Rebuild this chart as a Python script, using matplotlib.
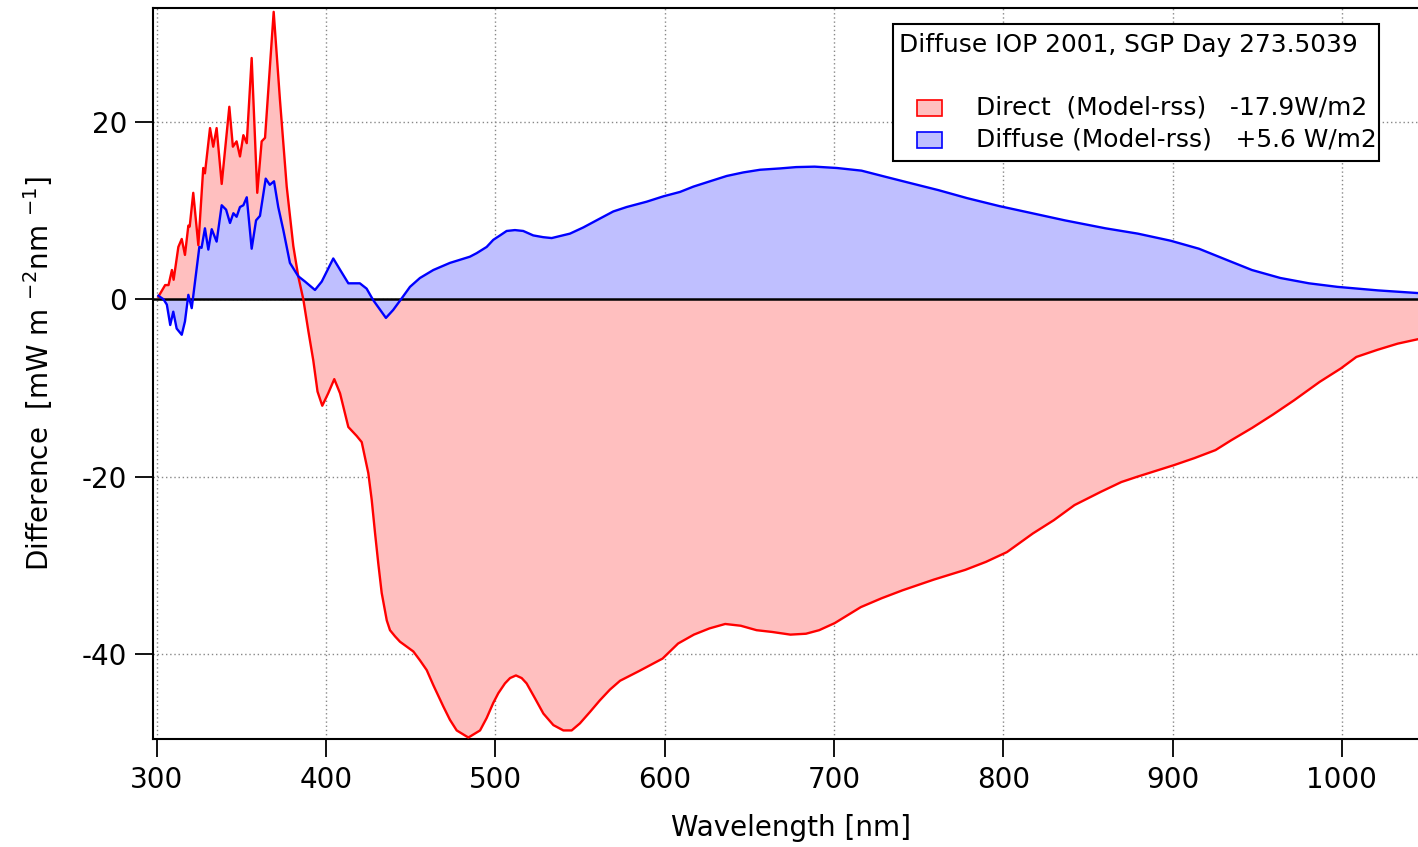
"""
Direct / diffuse spectral difference (Model - rss), Diffuse IOP 2001, SGP day 273.5039
"""
import numpy as np
import matplotlib
matplotlib.use("Agg")
import matplotlib.pyplot as plt
from matplotlib.patches import Rectangle

plt.rcParams['font.family'] = ['DejaVu Sans']
plt.rcParams['axes.unicode_minus'] = False

# direct component (Model-rss), mW m-2 nm-1
direct_wl = [301, 305, 307, 309, 310, 312.8, 314.8, 316.7, 318.7, 319.5,
             321.6, 324.6, 327.5, 328.5, 331.5, 333.4, 335.4, 338.4, 342.9, 345,
             347.2, 349.2, 351.2, 353.2, 356.1, 359.4, 362, 364, 369.1, 372.8,
             376.8, 380.7, 383.6, 386.6, 389.6, 392.5, 395.0, 397.8, 401.3, 404.9,
             408.3, 413.2, 418.1, 421.1, 425, 427, 429, 430.9, 432.9, 435.9,
             437.8, 440.8, 443.7, 451.6, 455.5, 459.5, 463.4, 469.3, 473.2, 477.2,
             484.1, 491, 494.9, 498.8, 501.8, 505.7, 508.7, 512.2, 515.6, 518.5,
             523.5, 528.4, 534.3, 540.2, 545.1, 550, 556, 561.8, 567.7, 573.7,
             585, 598.8, 608, 617.3, 626.5, 635.8, 645, 654.3, 663.5, 674.3,
             683.5, 691.3, 700.5, 715.9, 728.2, 740.6, 759, 777.6, 789.8, 802.2,
             817.5, 829.9, 842.1, 857.7, 869.8, 879.2, 900.8, 913, 925.4, 934.6,
             947, 959.3, 971.7, 987, 999.4, 1008.6, 1021, 1033, 1045]
direct_val = [0.3, 1.6, 1.6, 3.3, 2.2, 5.9, 6.8, 5.0, 8.3, 8.2,
              12.0, 6.1, 14.8, 14.2, 19.3, 17.2, 19.3, 13.0, 21.7, 17.2,
              17.8, 16.1, 18.5, 17.6, 27.2, 12.0, 17.8, 18.2, 32.4, 22.5,
              12.7, 6.0, 2.6, 0.0, -3.6, -6.9, -10.4, -12.0, -10.6, -9.0,
              -10.6, -14.4, -15.4, -16.1, -19.6, -22.6, -26.4, -29.8, -33.1, -36.2,
              -37.3, -38.0, -38.6, -39.7, -40.7, -41.8, -43.5, -45.9, -47.4, -48.6,
              -49.4, -48.6, -47.2, -45.5, -44.4, -43.3, -42.7, -42.4, -42.7, -43.3,
              -45.0, -46.7, -48.0, -48.6, -48.6, -47.8, -46.5, -45.2, -44.0, -43.0,
              -41.9, -40.5, -38.8, -37.8, -37.1, -36.6, -36.8, -37.3, -37.5, -37.8,
              -37.7, -37.3, -36.5, -34.7, -33.7, -32.8, -31.6, -30.5, -29.6, -28.5,
              -26.4, -24.9, -23.2, -21.7, -20.6, -20.0, -18.7, -17.9, -17.0, -15.9,
              -14.5, -13.0, -11.4, -9.3, -7.8, -6.5, -5.7, -5.0, -4.5]

# diffuse component (Model-rss)
diffuse_wl = [301, 304, 306, 308, 309.8, 311.8, 314.8, 316.7, 318.7, 320.7,
              325.2, 326.5, 328.5, 330.5, 332.5, 335.4, 338.4, 341, 343.3, 345.3,
              347.2, 349.2, 351.2, 353.2, 356.1, 358.7, 361, 364.4, 366.8, 369.3,
              371.8, 374.8, 378.7, 383.6, 387.6, 393.5, 397.5, 404.3, 408.4, 413.2,
              420, 424, 427.9, 435.4, 439.7, 444.7, 449.6, 455.5, 463.4, 473.2,
              485, 489, 494.9, 498.8, 502.8, 506.7, 511.6, 516.5, 522.4, 528.3,
              533.3, 544.1, 552, 561.8, 569.7, 577.6, 589.4, 599.2, 609.1, 617,
              626.8, 636.7, 646.5, 656.4, 668.2, 677.7, 688.6, 701.7, 716.3, 730.6,
              745.1, 761.8, 778.7, 797.8, 817.1, 836.3, 860.4, 879.5, 898.9, 915.6,
              932.5, 946.9, 963.7, 980.6, 997.4, 1021.4, 1045]
diffuse_val = [0.4, 0.0, -0.6, -2.9, -1.4, -3.3, -4.0, -2.5, 0.5, -1.0,
               5.9, 5.8, 8.0, 5.6, 7.9, 6.5, 10.6, 10.1, 8.6, 9.7,
               9.3, 10.4, 10.6, 11.5, 5.7, 8.9, 9.4, 13.6, 12.9, 13.3,
               10.4, 7.8, 4.1, 2.6, 2.0, 1.05, 2.0, 4.6, 3.3, 1.8,
               1.8, 1.2, -0.1, -2.1, -1.2, 0.1, 1.4, 2.4, 3.3, 4.1,
               4.8, 5.2, 5.9, 6.7, 7.2, 7.7, 7.8, 7.7, 7.2, 7.0,
               6.9, 7.4, 8.1, 9.1, 9.9, 10.4, 11.0, 11.6, 12.1, 12.7,
               13.3, 13.9, 14.3, 14.6, 14.75, 14.9, 14.95, 14.8, 14.5, 13.8,
               13.1, 12.3, 11.4, 10.5, 9.7, 8.9, 8.0, 7.4, 6.6, 5.7,
               4.4, 3.3, 2.4, 1.8, 1.4, 1.0, 0.7]

legend_title = 'Diffuse IOP 2001, SGP Day 273.5039'
legend_labels = ['Direct  (Model-rss)   -17.9W/m2',
                 'Diffuse (Model-rss)   +5.6 W/m2']
fill_colors = ['#ffbfbf', '#bfbfff']
line_colors = ['red', 'blue']

W, H = 1418, 847
fig = plt.figure(figsize=(W / 100, H / 100), dpi=100)
ax = fig.add_axes([153.3 / W, (H - 739.3) / H, (W - 153.3) / W, 731 / H])

ax.fill_between(direct_wl, direct_val, 0, facecolor=fill_colors[0], lw=0, zorder=1)
ax.fill_between(diffuse_wl, diffuse_val, 0, facecolor=fill_colors[1], lw=0, zorder=2)
ax.axhline(0, color='black', lw=1.8, zorder=3)
ax.plot(direct_wl, direct_val, color=line_colors[0], lw=1.7, zorder=4)
ax.plot(diffuse_wl, diffuse_val, color=line_colors[1], lw=1.7, zorder=5)

ax.set_xlim(298, 1045)
ax.set_ylim(-49.6, 32.8)
ax.set_xticks(np.arange(300, 1001, 100))
ax.set_yticks([-40, -20, 0, 20])
ax.set_axisbelow(True)
ax.grid(True, linestyle=(0, (1, 2)), color='#888888', lw=1.0)

ax.tick_params(direction='out', length=13, width=1.3, labelsize=20, pad=6)
for s in ['left', 'top', 'bottom']:
    ax.spines[s].set_linewidth(1.5)
ax.spines['right'].set_visible(False)

ax.set_xlabel('Wavelength [nm]', fontsize=20)
ax.xaxis.set_label_coords(0.504, -0.102)
ax.set_ylabel(r'Difference  [mW m $^{-2}$nm $^{-1}$]', fontsize=20)
ax.yaxis.set_label_coords(-0.078, 0.5)

# legend box, laid out in figure pixels
def fx(x):
    return x / W

def fy(y):
    return 1 - y / H

fig.patches.append(Rectangle((fx(893), fy(161)), fx(1379) - fx(893), fy(24) - fy(161),
                             transform=fig.transFigure, facecolor='white',
                             edgecolor='black', lw=1.5, zorder=10))
fig.text(fx(899), fy(45), legend_title, fontsize=17.9, va='center', ha='left', zorder=11)
for i, (lab, fc, ec) in enumerate(zip(legend_labels, fill_colors, line_colors)):
    yc = 108 + 32 * i
    fig.patches.append(Rectangle((fx(917), fy(yc + 8)), fx(942) - fx(917), fy(yc - 8) - fy(yc + 8),
                                 transform=fig.transFigure, facecolor=fc,
                                 edgecolor=ec, lw=1.2, zorder=11))
    fig.text(fx(976), fy(yc), lab, fontsize=17.9, va='center', ha='left', zorder=11)

plt.savefig('out.png', dpi=100)
